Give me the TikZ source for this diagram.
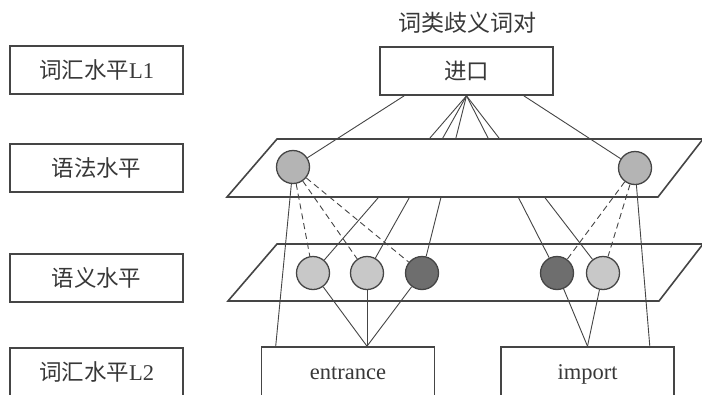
\documentclass[tikz,border=0pt]{standalone}
\usepackage{fontspec}
\setmainfont{Liberation Serif}
\newfontfamily\cjk{Noto Sans CJK SC}
\usetikzlibrary{calc}
\definecolor{ln}{HTML}{454545}
\definecolor{txt}{HTML}{383838}
\definecolor{gmid}{HTML}{B4B4B4}
\definecolor{glight}{HTML}{C8C8C8}
\definecolor{gdark}{HTML}{6E6E6E}
\begin{document}
\begin{tikzpicture}[x=1pt,y=-1pt,
  box/.style={draw=ln,line width=1.6pt,fill=white,minimum width=173pt,minimum height=48pt,inner sep=0pt,font=\fontsize{22.5}{26}\selectfont,text=txt},
  lowbox/.style={box,minimum height=52pt,text height=17pt,text depth=5pt},
  plane/.style={draw=ln,line width=1.6pt,fill=white,line join=miter},
  con/.style={draw=ln,line width=0.9pt},
  dcon/.style={con,dash pattern=on 6pt off 4pt},
  dot/.style={circle,draw=ln,line width=1.3pt,minimum size=33pt,inner sep=0pt},
  gdot/.style={dot,fill=gmid},
  ldot/.style={dot,fill=glight},
  ddot/.style={dot,fill=gdark}]
\useasboundingbox (0,0) rectangle (702,394);
\clip (0,0) rectangle (702,394);
\fill[white] (0,0) rectangle (702,394);

% left labels
\node[box] (l1) at (96.5,70) {{\cjk 词汇水平}L1};
\node[box] (gram) at (96.5,168) {\cjk 语法水平};
\node[box] (sem) at (96.5,278) {\cjk 语义水平};
\node[lowbox] (l2) at (96.5,374) {{\cjk 词汇水平}L2};

% title and top box
\node[font=\fontsize{23}{27}\selectfont,text=txt] (title) at (467,23) {\cjk 词类歧义词对};
\node[box] (jk) at (466.5,71) {\cjk 进口};

% bottom boxes
\node[lowbox] (ent) at (348,373) {entrance};
\node[lowbox] (imp) at (587.5,373) {import};

% semantic plane
\path[plane] (277,244) -- (703,244) -- (659,301) -- (228,301) -- cycle;

% semantic nodes
\node[ldot] (s1) at (313,273) {};
\node[ldot] (s2) at (367,273) {};
\node[ddot] (s3) at (422,273) {};
\node[ddot] (s4) at (557,273) {};
\node[ldot] (s5) at (603,273) {};

% lines from top box to semantic nodes (hidden behind grammar plane)
\foreach \s in {s1,s2,s3,s4,s5} \draw[con] (jk.south) -- (\s);

% grammar plane
\path[plane] (277,139) -- (703,139) -- (658,197) -- (227,197) -- cycle;

% grammar nodes
\node[gdot] (g1) at (293,167) {};
\node[gdot] (g2) at (635,168) {};

\draw[con] ([xshift=25pt]jk.south west) -- (g1);
\draw[con] ([xshift=-30pt]jk.south east) -- (g2);

% dashed links grammar -> semantic
\foreach \s in {s1,s2,s3} \draw[dcon] (g1) -- (\s);
\foreach \s in {s4,s5} \draw[dcon] (g2) -- (\s);

% grammar -> lexical L2
\draw[con] (g1) -- ([xshift=15pt]ent.north west);
\draw[con] (g2) -- ([xshift=-25pt]imp.north east);

% semantic -> lexical L2
\foreach \s in {s1,s2,s3} \draw[con] (\s) -- ([xshift=19pt]ent.north);
\foreach \s in {s4,s5} \draw[con] (\s) -- (imp.north);
\end{tikzpicture}
\end{document}
